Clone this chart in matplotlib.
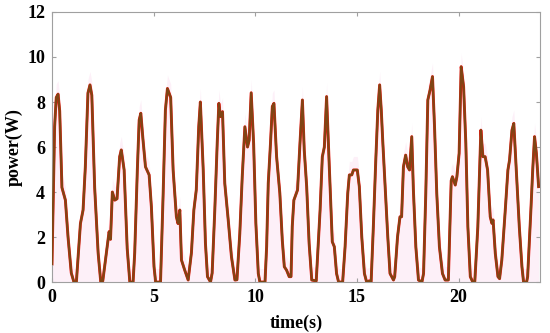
import numpy as np
import matplotlib
matplotlib.use('Agg')
import matplotlib.pyplot as plt

# time (s) and power (W)
t = [0.0, 0.13, 0.21, 0.3, 0.38, 0.49, 0.66, 0.79, 0.95, 1.08, 1.2, 1.4, 1.53, 1.64, 1.77, 1.87, 1.96,
     2.1, 2.27, 2.4, 2.5, 2.68, 2.81, 2.88, 2.97, 3.09, 3.2, 3.33, 3.41, 3.55, 3.7, 3.83, 3.99,
     4.07, 4.2, 4.29, 4.37, 4.47, 4.6, 4.78, 4.89, 5.02, 5.1, 5.34, 5.47, 5.58, 5.68, 5.84,
     5.96, 6.12, 6.2, 6.29, 6.37, 6.53, 6.7, 6.86, 6.98, 7.1, 7.22, 7.3, 7.44, 7.55, 7.65, 7.8,
     7.88, 8.01, 8.13, 8.21, 8.29, 8.39, 8.5, 8.67, 8.83, 9.0, 9.1, 9.24, 9.36, 9.49, 9.62, 9.7,
     9.8, 9.92, 10.03, 10.15, 10.23, 10.48, 10.56, 10.64, 10.75, 10.84, 10.92, 11.05, 11.21,
     11.33, 11.43, 11.54, 11.67, 11.76, 11.82, 11.9, 12.08, 12.2, 12.32, 12.41, 12.53, 12.65,
     12.78, 13.0, 13.19, 13.3, 13.4, 13.51, 13.63, 13.79, 13.89, 14.0, 14.1, 14.3, 14.42, 14.55,
     14.63, 14.75, 14.83, 15.02, 15.12, 15.24, 15.37, 15.48, 15.6, 15.7, 15.81, 15.93, 16.03,
     16.12, 16.2, 16.27, 16.39, 16.52, 16.63, 16.8, 16.86, 17.0, 17.12, 17.2, 17.29, 17.4, 17.5,
     17.59, 17.7, 17.78, 17.9, 18.03, 18.2, 18.28, 18.39, 18.49, 18.6, 18.72, 18.82, 18.93,
     19.06, 19.21, 19.34, 19.5, 19.64, 19.7, 19.84, 19.92, 20.03, 20.13, 20.25, 20.36, 20.46,
     20.58, 20.7, 20.8, 20.95, 21.1, 21.2, 21.31, 21.43, 21.56, 21.64, 21.7, 21.81, 21.94, 22.02,
     22.13, 22.3, 22.43, 22.51, 22.63, 22.72, 22.84, 22.99, 23.12, 23.2, 23.35, 23.4, 23.56,
     23.65, 23.74, 23.83, 23.94]
p_model = [0.8, 6.9, 8.2, 8.35, 7.6, 4.2, 3.64, 2.0, 0.4, 0.0, 0.0, 2.6, 3.2, 5.1, 8.4, 8.76, 8.3,
           4.2, 1.3, 0.0, 0.05, 1.3, 2.24, 1.9, 4.0, 3.64, 3.7, 5.57, 5.87, 4.98, 1.5, 0.0, 0.0,
           1.3, 5.0, 7.2, 7.5, 6.4, 5.12, 4.76, 3.35, 0.68, 0.0, 0.0, 3.95, 7.64, 8.6, 8.2,
           4.98, 2.9, 2.6, 3.2, 0.98, 0.53, 0.09, 1.3, 3.2, 4.1, 6.9, 8.0, 5.0, 1.72, 0.24, 0.0,
           0.4, 3.2, 6.2, 7.94, 7.35, 7.57, 4.39, 2.76, 1.12, 0.09, 0.1, 2.16, 4.68, 6.9, 6.0, 6.3,
           8.41, 6.16, 2.62, 0.38, 0.0, 0.0, 1.57, 4.39, 6.16, 7.8, 7.94, 5.57, 3.94,
           1.87, 0.68, 0.53, 0.24, 0.24, 2.46, 3.64, 4.09, 6.16, 8.09, 5.87, 4.24, 1.72,
           0.09, 0.05, 3.2, 5.57, 6.0, 8.24, 5.42, 1.79, 1.57, 0.38, 0.0, 0.0, 1.57, 3.94,
           4.76, 4.76, 4.98, 4.98, 4.24, 2.01, 0.38, 0.0, 0.05, 0.0, 2.46, 5.42, 7.64,
           8.76, 7.64, 6.31, 4.24, 2.01, 0.38, 0.09, 0.24, 2.01, 2.9, 2.9, 5.12, 5.64, 5.12,
           4.98, 6.46, 4.09, 1.57, 0.09, 0.0, 0.38, 3.94, 8.09, 8.53, 9.13, 6.9, 3.94,
           1.57, 0.38, 0.09, 0.09, 4.5, 4.68, 4.31, 4.68, 5.72, 9.57, 8.68, 6.16, 2.46,
           0.24, 0.0, 0.0, 2.46, 6.75, 5.57, 5.57, 4.98, 2.9, 2.61, 2.76, 1.27, 0.24, 0.15,
           0.98, 3.2, 4.98, 5.42, 6.75, 7.05, 4.98, 2.46, 0.68, 0.0, 0.0, 0.24, 3.2,
           4.98, 6.46, 5.72, 4.24]

t = np.array(t)
p_model = np.array(p_model)
p_meas = p_model.copy()

fig = plt.figure(figsize=(5.5, 3.33), dpi=100)
ax = fig.add_axes([0.0945, 0.153, 0.887, 0.811])

# faint pink haze under the trace, as in the reference
ax.fill_between(t, 0, np.minimum(p_model + 0.6, 12), color='#fdf0f8', lw=0, zorder=1)
ax.plot(t, p_meas, color='#e81a10', lw=2.1, zorder=2)
ax.plot(t, p_model, color='#7f4514', lw=1.6, zorder=3)

ax.set_xlim(0, 24)
ax.set_ylim(0, 12)
ax.set_xticks([0, 5, 10, 15, 20])
ax.set_yticks([0, 2, 4, 6, 8, 10, 12])
for s in ax.spines.values():
    s.set_color('#a0a0a0')
    s.set_linewidth(0.8)
ax.tick_params(direction='in', length=3, color='#a0a0a0', top=True, right=True,
               labelsize=13, pad=5)
for lab in ax.get_xticklabels() + ax.get_yticklabels():
    lab.set_fontfamily('Liberation Serif')
    lab.set_fontweight('bold')

ax.set_xlabel('time(s)', fontfamily='Liberation Serif', fontweight='bold', fontsize=13, labelpad=6)
ax.set_ylabel('power(W)', fontfamily='Liberation Serif', fontweight='bold', fontsize=13, labelpad=3)

fig.savefig('out.png', dpi=100)
